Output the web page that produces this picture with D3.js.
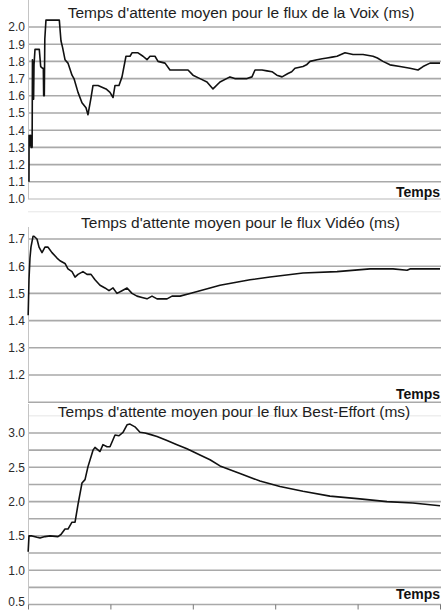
<!DOCTYPE html>
<html><head><meta charset="utf-8">
<script src="https://cdn.jsdelivr.net/npm/d3@7"></script>
<style>
html,body{margin:0;padding:0;background:#fff;}
svg{display:block;font-family:"Liberation Sans",Arial,sans-serif;}
</style></head>
<body>
<svg id="c" width="441" height="611"></svg>
<script>
// ---- data ----
const timeTicks = [0, 100, 200, 300, 400, 500];
const titles = [
  "Temps d'attente moyen pour le flux de la Voix (ms)",
  "Temps d'attente moyen pour le flux Vidéo (ms)",
  "Temps d'attente moyen pour le flux Best-Effort (ms)"
];
const xLabel = "Temps";

const voixGrid = [1.0,1.1,1.2,1.3,1.4,1.5,1.6,1.7,1.8,1.9,2.0];
const voixLabels = [1.0,1.1,1.2,1.3,1.4,1.5,1.6,1.7,1.8,1.9,2.0];
const videoGrid = [1.1,1.2,1.3,1.4,1.5,1.6,1.7];
const videoLabels = [1.2,1.3,1.4,1.5,1.6,1.7];
const beGrid = [0.5,0.75,1.0,1.25,1.5,1.75,2.0,2.25,2.5,2.75,3.0];
const beLabels = [0.5,1.0,1.5,2.0,2.5,3.0];

// [time, value]
const voixData = [
 [1.2,1.10],[1.3,1.37],[2.2,1.31],[3.0,1.37],[3.8,1.30],[4.5,1.37],[5.0,1.30],[5.4,1.81],[5.8,1.58],
 [6.3,1.80],[6.8,1.58],[7.3,1.78],[8.5,1.87],[13.7,1.87],[15.4,1.77],[17.8,1.76],[18.6,1.76],[19.0,1.60],
 [19.8,1.60],[20.4,1.93],[21.8,2.04],[38,2.04],[40,1.92],[42,1.88],[44.9,1.81],[48.5,1.79],[53.4,1.72],
 [55.8,1.70],[60.7,1.62],[65.5,1.56],[70.4,1.53],[72.8,1.49],[76.5,1.59],[78.9,1.66],[85,1.66],[89.8,1.65],
 [94.7,1.64],[99.5,1.62],[103.2,1.59],[105.6,1.66],[110.4,1.66],[114.1,1.71],[118.9,1.83],[123.8,1.83],
 [126.2,1.85],[133.5,1.85],[139.6,1.83],[144.4,1.81],[148.1,1.83],[154.1,1.83],[157.8,1.80],[166.3,1.79],
 [172.3,1.75],[176,1.75],[194.2,1.75],[200.2,1.72],[208.7,1.70],[217.2,1.68],[224.5,1.64],[233,1.68],
 [245.1,1.71],[251,1.70],[257.3,1.70],[265.8,1.70],[271.8,1.71],[275.5,1.75],[284,1.75],[290,1.745],[296.1,1.74],
 [302,1.72],[308.3,1.71],[315.5,1.73],[320,1.74],[324,1.76],[333.7,1.77],[338,1.78],[342.2,1.80],[350.7,1.81],
 [357,1.815],[362.9,1.82],[369,1.825],[375,1.83],[384.7,1.85],[394.4,1.84],[406.6,1.84],[418.7,1.83],
 [424,1.82],[430.8,1.80],[439.3,1.78],[451.5,1.77],[463.6,1.76],[473.3,1.75],[479.4,1.77],[487.9,1.79],[500,1.79]
];

const videoData = [
 [0.2,1.42],[1.2,1.55],[2.4,1.63],[3.6,1.67],[6.1,1.71],[7.3,1.71],[10.9,1.70],[13.4,1.67],[17,1.65],
 [20.6,1.67],[24.3,1.67],[29.1,1.65],[35.2,1.63],[38.8,1.62],[44.9,1.61],[48.5,1.59],[53.4,1.58],[57.1,1.56],
 [60.7,1.57],[66.7,1.58],[71.6,1.57],[76.5,1.57],[81.3,1.55],[87.4,1.53],[93.4,1.52],[98.3,1.51],[103.2,1.52],
 [108,1.50],[114.1,1.51],[120.2,1.52],[126.2,1.50],[132.3,1.49],[138.4,1.485],[144.4,1.48],[150.5,1.49],
 [156.6,1.48],[163.8,1.48],[168.7,1.48],[174.8,1.49],[184.5,1.49],[196.6,1.50],[208.7,1.51],[220.9,1.52],
 [233,1.53],[251.2,1.54],[269.4,1.55],[293.7,1.56],[333.7,1.575],[375,1.58],[415.1,1.59],[443,1.59],
 [460,1.585],[463.6,1.59],[500,1.59]
];

const beData = [
 [0.2,1.27],[1.2,1.50],[4.9,1.50],[10.9,1.48],[14.6,1.47],[20.6,1.49],[26.7,1.50],[36.4,1.49],[40,1.52],
 [44.9,1.60],[48.5,1.60],[53.4,1.70],[57.1,1.70],[60.7,1.96],[65.5,2.27],[69.2,2.32],[72.8,2.51],[78.9,2.75],
 [81.3,2.79],[87.4,2.73],[91,2.83],[95.9,2.80],[99.5,2.80],[105.6,2.97],[110.4,2.96],[115.3,3.01],[120.2,3.12],
 [123.8,3.13],[129.8,3.09],[135.9,3.01],[142,3.00],[148.1,2.98],[156.6,2.95],[168.7,2.89],[180.8,2.83],
 [192.9,2.77],[208.7,2.68],[220.9,2.61],[233,2.52],[257.3,2.41],[281.5,2.30],[305.8,2.22],[333.7,2.15],
 [366.4,2.08],[402.8,2.04],[435.6,2.00],[467.1,1.98],[500,1.94]
];

// ---- drawing ----
const svg = d3.select("#c");
const x = d3.scaleLinear().domain([0, 500]).range([28, 440]);
const gridColor = "#a9a9a9";
const plotW = 441;

const panels = [
  {data: voixData, grid: voixGrid, labels: voixLabels, dom: [1.0, 2.0], rng: [199, 27],
   title: titles[0], tx: 241, ty: 18, tempsY: 197, axisTop: 0, axisBot: 199, faint: [], lightLast: 1.0},
  {data: videoData, grid: videoGrid, labels: videoLabels, dom: [1.1, 1.7], rng: [402.2, 239],
   title: titles[1], tx: 240.5, ty: 228, tempsY: 399, axisTop: 227, axisBot: 402, faint: [1.8], lightLast: null},
  {data: beData, grid: beGrid, labels: beLabels, dom: [0.5, 3.0], rng: [604.5, 433],
   title: titles[2], tx: 234, ty: 417, tempsY: 599, axisTop: 404, axisBot: 604.5, faint: [3.25], lightLast: null}
];

panels.forEach((p, i) => {
  const y = d3.scaleLinear().domain(p.dom).range(p.rng);
  const g = svg.append("g");

  g.selectAll("line.faint").data(p.faint).enter().append("line")
    .attr("x1", 28).attr("x2", plotW)
    .attr("y1", d => y(d)).attr("y2", d => y(d))
    .attr("stroke", "#e6e6e6").attr("stroke-width", 1);

  g.selectAll("line.grid").data(p.grid).enter().append("line")
    .attr("x1", 28).attr("x2", plotW)
    .attr("y1", d => y(d)).attr("y2", d => y(d))
    .attr("stroke", d => (p.lightLast !== null && Math.abs(d - p.lightLast) < 1e-9) ? "#cfcfcf" : gridColor)
    .attr("stroke-width", 1.6);

  g.append("line").attr("x1", 28.5).attr("x2", 28.5)
    .attr("y1", p.axisTop).attr("y2", p.axisBot)
    .attr("stroke", "#c4c4c4").attr("stroke-width", 1);

  const ax = d3.axisLeft(y).tickValues(p.labels).tickFormat(d3.format(".1f")).tickSize(0).tickPadding(3);
  const axg = g.append("g").attr("transform", "translate(28,0)").call(ax);
  axg.select(".domain").remove();
  axg.selectAll("text").attr("font-size", 12).attr("fill", "#2a2a2a")
    .attr("font-family", "'Liberation Sans', Arial, sans-serif");
  if (i === 2) {
    axg.selectAll(".tick").filter(d => d === 0.5).select("text").attr("dy", "0.1em");
  }

  g.append("text").attr("x", p.tx).attr("y", p.ty).attr("text-anchor", "middle")
    .attr("font-size", 15.5).attr("fill", "#1e1e1e").text(p.title);

  g.append("text").attr("x", 440).attr("y", p.tempsY).attr("text-anchor", "end")
    .attr("font-size", 14).attr("font-weight", "bold").attr("fill", "#111").text(xLabel);

  const line = d3.line().x(d => x(d[0])).y(d => y(d[1]));
  g.append("path").datum(p.data).attr("d", line)
    .attr("fill", "none").attr("stroke", "#111").attr("stroke-width", 1.6)
    .attr("stroke-linejoin", "round");

  if (i === 2) {
    const bx = d3.axisBottom(x).tickValues(timeTicks).tickFormat("").tickSize(5);
    const bg = g.append("g").attr("transform", "translate(0,604.5)").call(bx);
    bg.select(".domain").remove();
    bg.selectAll(".tick line").attr("stroke", "#777");
  }
});
</script>
</body></html>
